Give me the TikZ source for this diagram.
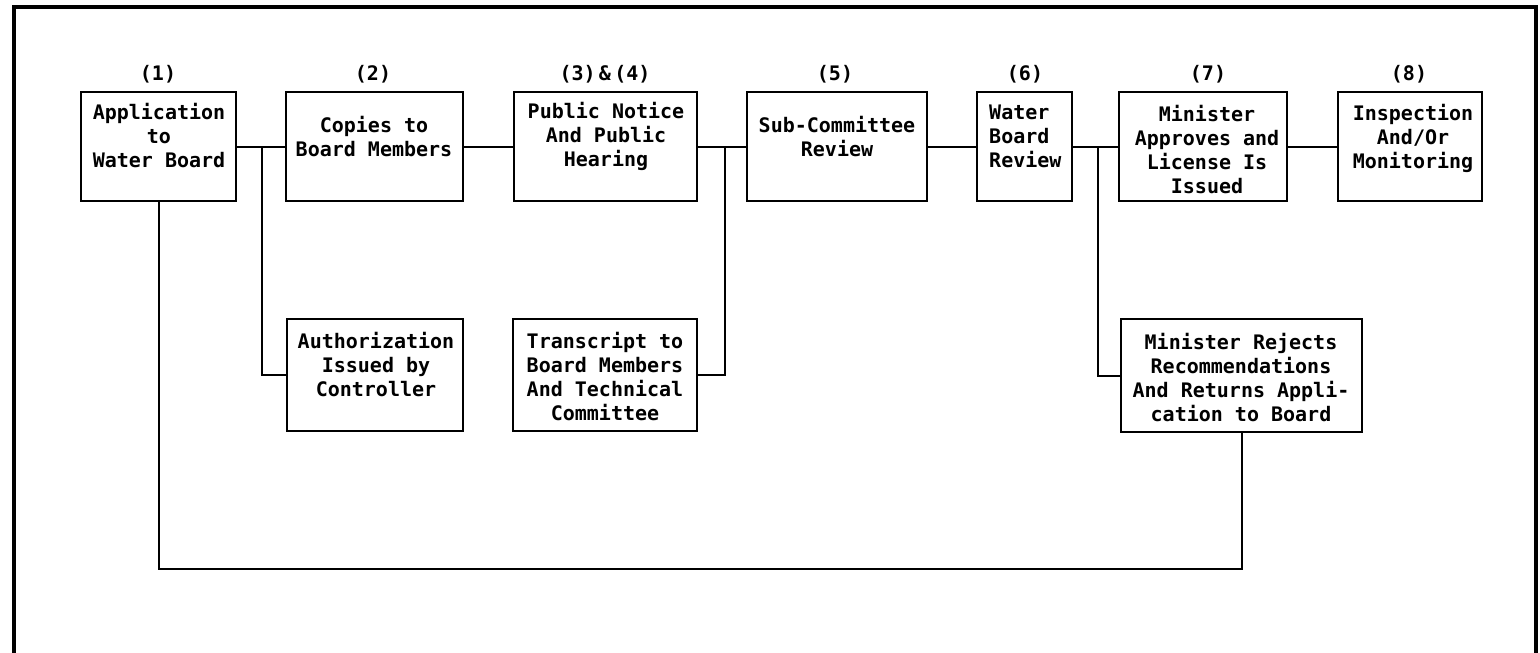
\documentclass[tikz,border=0pt]{standalone}
\usepackage{fontspec}
\setmonofont{DejaVu Sans Mono}
\begin{document}
\begin{tikzpicture}[x=1pt,y=-1pt,
  box/.style={draw=black, line width=2.3pt, inner sep=0pt, fill=none},
  txt/.style={font=\ttfamily\bfseries\fontsize{20}{24}\selectfont, align=center, inner sep=0pt},
  txtl/.style={font=\ttfamily\bfseries\fontsize{20}{24}\selectfont, align=left, inner sep=0pt},
  conn/.style={draw=black, line width=2pt},
  frame/.style={draw=black, line width=3.5pt}]
\useasboundingbox (0,0) rectangle (1540,653);
% frame
\draw[frame] (14,655) -- (14,7) -- (1536,7) -- (1536,655);

% top row boxes
\node[box, minimum width=155pt, minimum height=109pt] (b1) at (158.5,146.5) {};
\node[box, minimum width=177pt, minimum height=109pt] (b2) at (374.5,146.5) {};
\node[box, minimum width=183pt, minimum height=109pt] (b3) at (605.5,146.5) {};
\node[box, minimum width=180pt, minimum height=109pt] (b5) at (837,146.5) {};
\node[box, minimum width=95pt, minimum height=109pt] (b6) at (1024.5,146.5) {};
\node[box, minimum width=168pt, minimum height=109pt] (b7) at (1203,146.5) {};
\node[box, minimum width=144pt, minimum height=109pt] (b8) at (1410,146.5) {};
% lower boxes
\node[box, minimum width=176pt, minimum height=112pt] (auth) at (375,375) {};
\node[box, minimum width=184pt, minimum height=112pt] (tran) at (605,375) {};
\node[box, minimum width=241pt, minimum height=113pt] (rej) at (1241.5,375.5) {};

% step labels
\node[txt] (l1) at (158,74) {(1)};
\node[txt] (l2) at (373,74) {(2)};
\node[txt] (l3) at (605,74) {(3)\,\&\,(4)};
\node[txt] (l5) at (835,74) {(5)};
\node[txt] (l6) at (1025,74) {(6)};
\node[txt] (l7) at (1208,74) {(7)};
\node[txt] (l8) at (1409,74) {(8)};

% box texts
\node[txt] (t1) at (159,136) {Application\\to\\Water Board};
\node[txt] (t2) at (374,137) {Copies to\\Board Members};
\node[txt] (t3) at (606,136) {Public Notice\\And Public\\Hearing};
\node[txt] (t5) at (837,137) {Sub-Committee\\Review};
\node[txtl, anchor=west] (t6) at (989,136) {Water\\Board\\Review};
\node[txt] (t7) at (1207,150) {Minister\\Approves and\\License Is\\Issued};
\node[txt] (t8) at (1413,138) {Inspection\\And/Or\\Monitoring};
\node[txt] (ta) at (376,365) {Authorization\\Issued by\\Controller};
\node[txt] (tt) at (605,377) {Transcript to\\Board Members\\And Technical\\Committee};
\node[txt] (tr) at (1241,378) {Minister Rejects\\Recommendations\\And Returns Appli-\\cation to Board};

% main connectors
\draw[conn] (b1.east) -- (b2.west);
\draw[conn] (b2.east) -- (b3.west);
\draw[conn] (b3.east) -- (b5.west);
\draw[conn] (b5.east) -- (b6.west);
\draw[conn] (b6.east) -- (b7.west);
\draw[conn] (b7.east) -- (b8.west);

% branches
\coordinate (j1) at (262,146.5);
\coordinate (j2) at (725,146.5);
\coordinate (j3) at (1098,146.5);
\draw[conn] (j1) |- (auth.west);
\draw[conn] (j2) |- (tran.east);
\draw[conn] (j3) |- (rej.west);

% feedback loop
\coordinate (fb) at (158.5,569);
\draw[conn] (b1.south) -- (fb) -| (rej.south);
\end{tikzpicture}
\end{document}
